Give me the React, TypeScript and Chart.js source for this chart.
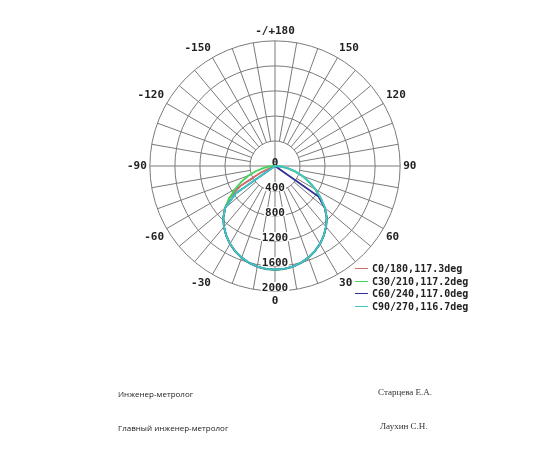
import React, { useEffect, useRef } from "react";
import Chart from "chart.js/auto";

// angles around the diagram, clockwise from the top
const angleLabels = [
  180, 175, 170, 165, 160, 155, 150, 145, 140, 135, 130, 125, 120, 115, 110, 105, 100, 95,
  90, 85, 80, 75, 70, 65, 60, 55, 50, 45, 40, 35, 30, 25, 20, 15, 10, 5,
  0, -5, -10, -15, -20, -25, -30, -35, -40, -45, -50, -55, -60, -65, -70, -75, -80, -85,
  -90, -95, -100, -105, -110, -115, -120, -125, -130, -135, -140, -145, -150, -155, -160, -165, -170, -175,
];
const radialTicks = [0, 400, 800, 1200, 1600, 2000];
const gammaSteps = [0, 5, 10, 15, 20, 25, 30, 35, 40, 45, 50, 55, 60, 65, 70, 75, 80, 85, 90];

// intensity, cd, for gamma 0..90 on each half of a C plane
const c0Right = [1660, 1655, 1636, 1605, 1562, 1507, 1440, 1362, 1272, 1172, 1040, 890, 745, 600, 465, 330, 200, 90, 0];
const c0Left = [1660, 1655, 1636, 1605, 1562, 1507, 1440, 1362, 1272, 1172, 1040, 890, 640, 260, 40, 0, 0, 0, 0];
const c30Right = [1658, 1653, 1634, 1603, 1560, 1505, 1438, 1360, 1270, 1170, 1040, 888, 742, 598, 462, 328, 198, 88, 0];
const c30Left = [1658, 1653, 1634, 1603, 1560, 1505, 1438, 1360, 1270, 1170, 1040, 885, 735, 590, 455, 320, 190, 85, 0];
const c60Right = [1655, 1650, 1632, 1600, 1558, 1503, 1436, 1358, 1268, 1168, 1038, 850, 0, 0, 0, 0, 0, 0, 0];
const c60Left = [1655, 1650, 1632, 1600, 1558, 1503, 1436, 1358, 1268, 1168, 1038, 770, 0, 0, 0, 0, 0, 0, 0];
const c90Right = [1655, 1650, 1632, 1601, 1558, 1503, 1436, 1358, 1268, 1170, 1042, 892, 748, 604, 470, 335, 205, 92, 0];
const c90Left = [1655, 1650, 1632, 1601, 1558, 1503, 1436, 1358, 1268, 1168, 1038, 760, 0, 0, 0, 0, 0, 0, 0];

const seriesNames = ["C0/180,117.3deg", "C30/210,117.2deg", "C60/240,117.0deg", "C90/270,116.7deg"];
const seriesColors = ["#d06c6c", "#3dd65a", "#2e2e96", "#3fc8c8"];

const GRID = "#7a7a7a";
const MONO = "'DejaVu Sans Mono', monospace";

function valuesFor(right: number[], left: number[]) {
  return angleLabels.map((a) => {
    if (Math.abs(a) > 90) return 0;
    const idx = gammaSteps.indexOf(Math.abs(a));
    return a >= 0 ? right[idx] : left[idx];
  });
}

// spokes every 10 deg start at the first ring; radial values sit on the 0 deg axis
const polarDecor = {
  id: "polarDecor",
  beforeDatasetsDraw(chart: any) {
    const s = chart.scales.r;
    const ctx = chart.ctx;
    const inner = s.getDistanceFromCenterForValue(radialTicks[1]);
    const outer = s.getDistanceFromCenterForValue(radialTicks[radialTicks.length - 1]);
    ctx.save();
    ctx.strokeStyle = GRID;
    ctx.lineWidth = 1;
    angleLabels.forEach((a, i) => {
      if (a % 10 !== 0 || a % 90 === 0) return;
      const p1 = s.getPointPosition(i, inner);
      const p2 = s.getPointPosition(i, outer);
      ctx.beginPath();
      ctx.moveTo(p1.x, p1.y);
      ctx.lineTo(p2.x, p2.y);
      ctx.stroke();
    });
    ctx.font = "bold 11px " + MONO;
    ctx.textAlign = "center";
    ctx.textBaseline = "alphabetic";
    radialTicks.forEach((v) => {
      const d = s.getDistanceFromCenterForValue(v);
      const text = String(v);
      const w = ctx.measureText(text).width;
      const y = s.yCenter + d;
      if (v !== radialTicks[0]) {
        ctx.fillStyle = "#fff";
        ctx.fillRect(s.xCenter - w / 2 - 1, y - 9, w + 2, 9);
      }
      ctx.fillStyle = "#222";
      ctx.fillText(text, s.xCenter, y);
    });
    ctx.restore();
  },
};

function PolarChart() {
  const chartRef = useRef<HTMLCanvasElement>(null);
  const chartInstance = useRef<Chart | null>(null);

  useEffect(() => {
    if (chartInstance.current) {
      chartInstance.current.destroy();
      chartInstance.current = null;
    }
    if (!chartRef.current) return;
    const ctx = chartRef.current.getContext("2d");
    if (!ctx) return;

    const halves = [
      [c0Right, c0Left],
      [c30Right, c30Left],
      [c60Right, c60Left],
      [c90Right, c90Left],
    ];

    const datasets = halves.map(([r, l], i) => ({
      label: seriesNames[i],
      data: valuesFor(r, l),
      borderColor: seriesColors[i],
      backgroundColor: seriesColors[i],
      borderWidth: 1.8,
      pointRadius: 0,
      fill: false,
      order: halves.length - 1 - i,
    }));

    chartInstance.current = new Chart(ctx, {
      type: "radar",
      data: { labels: angleLabels, datasets },
      options: {
        animation: false,
        responsive: true,
        maintainAspectRatio: false,
        layout: { padding: { left: 124, right: 130, top: 18, bottom: 136 } },
        plugins: { legend: { display: false }, tooltip: { enabled: false } },
        scales: {
          r: {
            min: radialTicks[0],
            max: radialTicks[radialTicks.length - 1],
            startAngle: 0,
            ticks: { stepSize: 400, display: false },
            grid: { circular: true, color: GRID, lineWidth: 1 },
            angleLines: {
              color: GRID,
              lineWidth: (c: any) => (angleLabels[c.index] % 90 === 0 ? 1 : 0),
            },
            pointLabels: {
              padding: 3,
              color: "#222",
              font: { family: MONO, size: 11, weight: "bold" },
              callback: (label: any) => {
                const n = Number(label);
                if (n % 30 !== 0) return "";
                return n === 180 ? "-/+180" : String(n);
              },
            },
          },
        },
      } as any,
      plugins: [polarDecor],
    });

    return () => {
      if (chartInstance.current) {
        chartInstance.current.destroy();
        chartInstance.current = null;
      }
    };
  }, []);

  return <canvas ref={chartRef}></canvas>;
}

export default function App() {
  const sans: React.CSSProperties = { position: "absolute", fontFamily: "'Open Sans', sans-serif", fontSize: 8, lineHeight: "10px", color: "#222", whiteSpace: "nowrap" };
  const serif: React.CSSProperties = { position: "absolute", fontFamily: "'Liberation Serif', serif", fontSize: 9, lineHeight: "11px", color: "#333", whiteSpace: "nowrap" };
  return (
    <div style={{ position: "absolute", left: 0, top: 0, width: 550, height: 450, background: "#fff" }}>
      <div style={{ position: "absolute", left: 0, top: 0, width: 550, height: 450 }}>
        <PolarChart />
      </div>
      {seriesNames.map((name, i) => (
        <div
          key={name}
          style={{ position: "absolute", left: 355, top: 262 + i * 12.7, height: 13, display: "flex", alignItems: "center", fontFamily: MONO, fontWeight: "bold", fontSize: 10, color: "#222", whiteSpace: "nowrap" }}
        >
          <span style={{ display: "inline-block", width: 13, height: 0, borderTop: "1.5px solid " + seriesColors[i], marginRight: 4 }}></span>
          {name}
        </div>
      ))}
      <div style={{ ...sans, left: 118, top: 389 }}>Инженер-метролог</div>
      <div style={{ ...sans, left: 118, top: 423 }}>Главный инженер-метролог</div>
      <div style={{ ...serif, left: 378, top: 387 }}>Старцева Е.А.</div>
      <div style={{ ...serif, left: 380, top: 421 }}>Лаухин С.Н.</div>
    </div>
  );
}
